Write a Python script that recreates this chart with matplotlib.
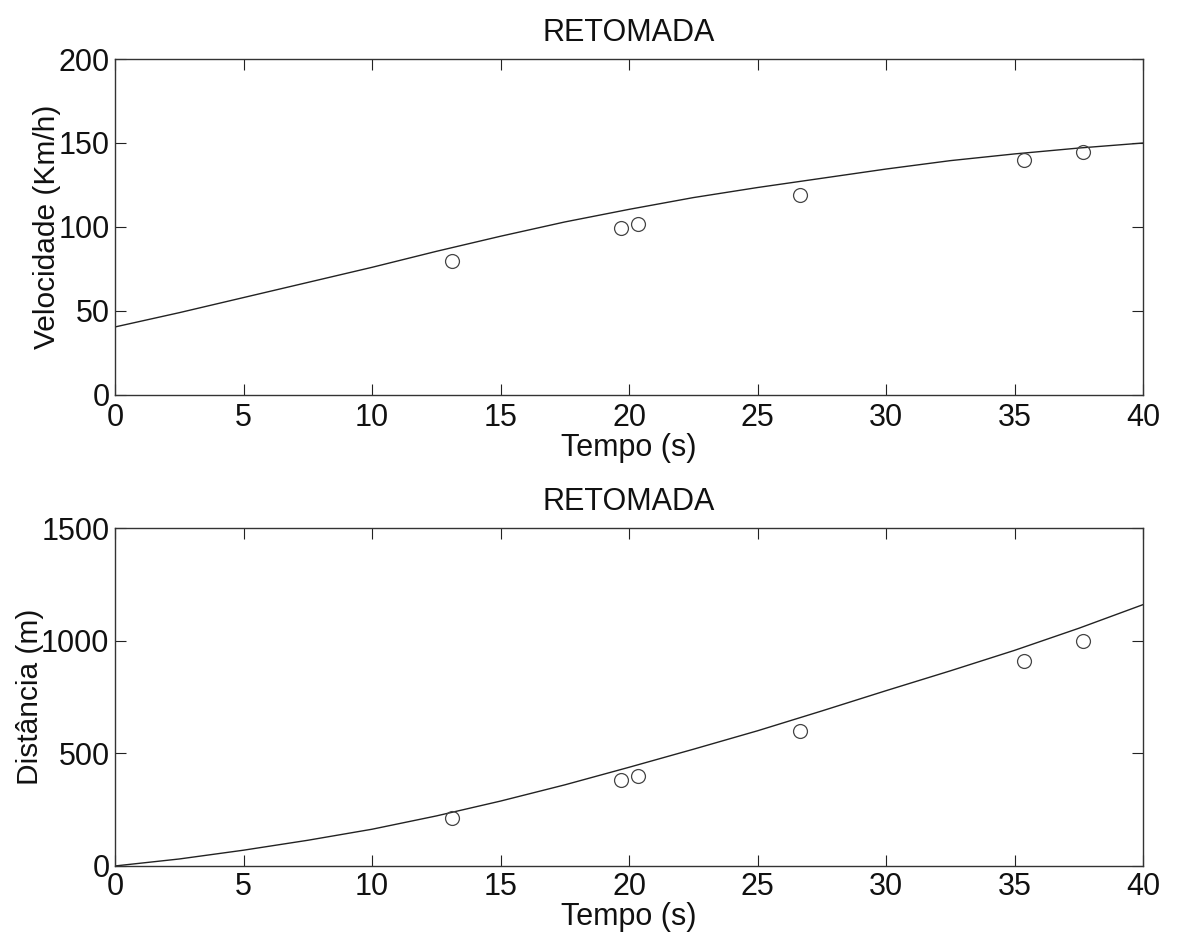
import matplotlib
matplotlib.use("Agg")
import matplotlib.pyplot as plt

plt.rcParams['font.family'] = ['Liberation Sans', 'DejaVu Sans']

# Measured data points
t_meas = [13.1, 19.7, 20.35, 26.65, 35.35, 37.65]
v_meas = [79.5, 99.5, 101.5, 119.0, 140.0, 144.5]
d_meas = [215, 383, 401, 597, 911, 997]

# Model curves
t_curve = [0, 2.5, 5, 7.5, 10, 12.5, 15, 17.5, 20, 22.5, 25, 27.5, 30, 32.5, 35, 37.5, 40]
v_curve = [40.5, 49, 58, 67, 76, 85.5, 94.5, 103, 110.5, 117.5, 123.5, 129, 134.5, 139.5, 143.5, 147, 150]
d_curve = [0, 31, 70, 114, 163, 222, 288, 360, 438, 518, 600, 688, 778, 866, 957, 1055, 1160]

x_ticks = [0, 5, 10, 15, 20, 25, 30, 35, 40]
v_ticks = [0, 50, 100, 150, 200]
d_ticks = [0, 500, 1000, 1500]

title = "RETOMADA"
xlabel = "Tempo (s)"

fig = plt.figure(figsize=(11.81, 9.38), dpi=100)
ax1 = fig.add_axes([0.0974, 0.5789, 0.8705, 0.3582])
ax2 = fig.add_axes([0.0974, 0.0768, 0.8705, 0.3603])

FS = 22
for ax, yv, yc, yt, ylab, tpad in [(ax1, v_meas, v_curve, v_ticks, "Velocidade (Km/h)", 6),
                                   (ax2, d_meas, d_curve, d_ticks, "Distância (m)", 4)]:
    ax.plot(t_curve, yc, color='#222222', lw=1.0)
    ax.plot(t_meas, yv, 'o', mfc='none', mec='#444444', mew=0.9, ms=10)
    ax.set_xlim(0, 40)
    ax.set_ylim(yt[0], yt[-1])
    ax.set_xticks(x_ticks)
    ax.set_yticks(yt)
    ax.set_xticklabels([str(v) for v in x_ticks])
    ax.set_yticklabels([str(v) for v in yt])
    ax.tick_params(direction='in', length=8, width=0.8, top=True, right=True,
                   labelsize=FS, colors='#222222', labelcolor='#111111')
    ax.tick_params(axis='x', pad=tpad)
    ax.tick_params(axis='y', pad=4)
    for s in ax.spines.values():
        s.set_linewidth(1.0)
        s.set_color('#333333')
    ax.set_title(title, fontsize=FS, pad=13, color='#111111')
    ax.set_xlabel(xlabel, fontsize=FS, labelpad=0, color='#111111')
    ax.set_ylabel(ylab, fontsize=21.5, labelpad=-2, color='#111111')

fig.savefig("out.png", dpi=100, facecolor='white')
